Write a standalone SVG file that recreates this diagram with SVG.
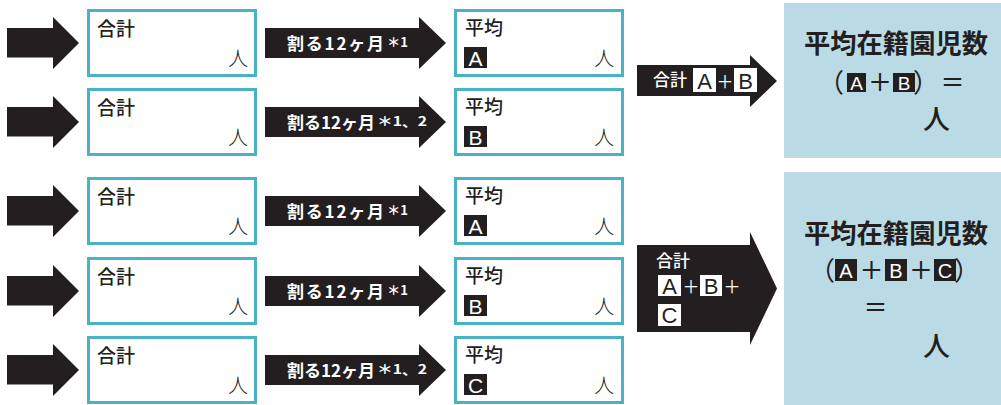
<svg xmlns="http://www.w3.org/2000/svg" xmlns:xlink="http://www.w3.org/1999/xlink" width="1001" height="405" viewBox="0 0 1001 405">
<style>
text{font-family:"Noto Sans CJK JP","Noto Sans",sans-serif}
.box{fill:#fff;stroke:#4ab2c5;stroke-width:3}
.arr{fill:#231f20}
.lbl{font-size:19px;font-weight:500;fill:#231f20}
.nin{font-size:20px;font-weight:300;fill:#231f20}
.wl{font-size:17px;font-weight:700;fill:#fff}
.sup{font-size:13px;font-weight:700;fill:#fff}
.blk{fill:#231f20}
.wht{fill:#fff}
.let{font-family:"Liberation Sans",Arial,sans-serif;font-size:21px;text-anchor:middle}
.big{font-size:26px;font-weight:700;fill:#231f20}
.sym{font-size:24px;font-weight:500;fill:#231f20;text-anchor:middle}
.res{fill:#badbe5}
</style>
<defs>
<path id="la" d="M7,-15 H53 V-26 L79,0 L53,26 V14.5 H7 Z"/>
<path id="ma" d="M265,-15 H419 V-26 L446,0 L419,26 V15 H265 Z"/>
</defs>
<g id="connectors">
<use xlink:href="#la" class="arr" y="43"/>
<use xlink:href="#la" class="arr" y="122"/>
<use xlink:href="#la" class="arr" y="211"/>
<use xlink:href="#la" class="arr" y="291"/>
<use xlink:href="#la" class="arr" y="370"/>
<use xlink:href="#ma" class="arr" y="43"/>
<use xlink:href="#ma" class="arr" y="122"/>
<use xlink:href="#ma" class="arr" y="211"/>
<use xlink:href="#ma" class="arr" y="291"/>
<use xlink:href="#ma" class="arr" y="370"/>
<text class="wl" x="287" y="50" textLength="97" lengthAdjust="spacing">割る12ヶ月</text><text class="sup" x="387" y="46.5" textLength="21" lengthAdjust="spacingAndGlyphs">＊1</text>
<text class="wl" x="287" y="129" textLength="88" lengthAdjust="spacing">割る12ヶ月</text><text class="sup" x="377" y="125.5" textLength="50" lengthAdjust="spacingAndGlyphs">＊1、2</text>
<text class="wl" x="287" y="218" textLength="97" lengthAdjust="spacing">割る12ヶ月</text><text class="sup" x="387" y="214.5" textLength="21" lengthAdjust="spacingAndGlyphs">＊1</text>
<text class="wl" x="287" y="298" textLength="97" lengthAdjust="spacing">割る12ヶ月</text><text class="sup" x="387" y="294.5" textLength="21" lengthAdjust="spacingAndGlyphs">＊1</text>
<text class="wl" x="287" y="377" textLength="88" lengthAdjust="spacing">割る12ヶ月</text><text class="sup" x="377" y="373.5" textLength="50" lengthAdjust="spacingAndGlyphs">＊1、2</text>
<path class="arr" d="M637,65 H750 V55 L777,81 L750,107 V96 H637 Z"/>
<text x="653" y="86" style="font-size:17px;font-weight:500;fill:#fff">合計</text>
<rect class="wht" x="693" y="68" width="23" height="24"/><text class="let" x="704.5" y="88.5" style="font-size:22px;fill:#231f20">A</text>
<text x="725" y="88" style="font-size:17px;fill:#fff;text-anchor:middle">＋</text>
<rect class="wht" x="734" y="68" width="23" height="24"/><text class="let" x="745.5" y="88.5" style="font-size:22px;fill:#231f20">B</text>
<path class="arr" d="M637,245 H750 V232 L777,288.5 L750,345 V332 H637 Z"/>
<text x="656" y="267" style="font-size:17px;font-weight:500;fill:#fff">合計</text>
<rect class="wht" x="658" y="275" width="23" height="21"/><text class="let" x="669.5" y="293.5" style="font-size:22px;fill:#231f20">A</text>
<text x="691" y="293" style="font-size:17px;fill:#fff;text-anchor:middle">＋</text>
<rect class="wht" x="700" y="275" width="22" height="21"/><text class="let" x="711" y="293.5" style="font-size:22px;fill:#231f20">B</text>
<text x="732" y="293" style="font-size:17px;fill:#fff;text-anchor:middle">＋</text>
<rect class="wht" x="658" y="304" width="23" height="22"/><text class="let" x="669.5" y="323" style="font-size:22px;fill:#231f20">C</text>
</g>
<g id="sum1"><rect class="box" x="88.5" y="10.5" width="167" height="65"/><text class="lbl" x="97" y="35.5">合計</text><text class="nin" x="228" y="65.5">人</text></g>
<g id="sum2"><rect class="box" x="88.5" y="89.5" width="167" height="65"/><text class="lbl" x="97" y="114.5">合計</text><text class="nin" x="228" y="144.5">人</text></g>
<g id="sum3"><rect class="box" x="88.5" y="178.5" width="167" height="65"/><text class="lbl" x="97" y="203.5">合計</text><text class="nin" x="228" y="233.5">人</text></g>
<g id="sum4"><rect class="box" x="88.5" y="258.5" width="167" height="65"/><text class="lbl" x="97" y="283.5">合計</text><text class="nin" x="228" y="313.5">人</text></g>
<g id="sum5"><rect class="box" x="88.5" y="337.5" width="167" height="65"/><text class="lbl" x="97" y="362.5">合計</text><text class="nin" x="228" y="392.5">人</text></g>
<g id="avgA1"><rect class="box" x="455.5" y="10.5" width="167" height="65"/><text class="lbl" x="465" y="34.5">平均</text><rect class="blk" x="464" y="47" width="23" height="21"/><text class="let wht" x="475.5" y="65.5">A</text><text class="nin" x="594" y="65.5">人</text></g>
<g id="avgB1"><rect class="box" x="455.5" y="89.5" width="167" height="65"/><text class="lbl" x="465" y="113.5">平均</text><rect class="blk" x="464" y="126" width="23" height="21"/><text class="let wht" x="475.5" y="144.5">B</text><text class="nin" x="594" y="144.5">人</text></g>
<g id="avgA2"><rect class="box" x="455.5" y="178.5" width="167" height="65"/><text class="lbl" x="465" y="202.5">平均</text><rect class="blk" x="464" y="215" width="23" height="21"/><text class="let wht" x="475.5" y="233.5">A</text><text class="nin" x="594" y="233.5">人</text></g>
<g id="avgB2"><rect class="box" x="455.5" y="258.5" width="167" height="65"/><text class="lbl" x="465" y="282.5">平均</text><rect class="blk" x="464" y="295" width="23" height="21"/><text class="let wht" x="475.5" y="313.5">B</text><text class="nin" x="594" y="313.5">人</text></g>
<g id="avgC2"><rect class="box" x="455.5" y="337.5" width="167" height="65"/><text class="lbl" x="465" y="361.5">平均</text><rect class="blk" x="464" y="374" width="23" height="21"/><text class="let wht" x="475.5" y="392.5">C</text><text class="nin" x="594" y="392.5">人</text></g>
<g id="result1">
<rect class="res" x="784" y="3" width="217" height="155"/>
<text class="big" x="804" y="53" textLength="184" lengthAdjust="spacingAndGlyphs">平均在籍園児数</text>
<text class="big" x="818" y="92" style="font-weight:400">（</text>
<rect class="blk" x="847" y="73" width="19" height="19"/><text class="let wht" x="856.5" y="90" style="font-size:19px">A</text>
<text class="sym" x="880" y="91">＋</text>
<rect class="blk" x="893" y="73" width="22" height="19"/><text class="let wht" x="904" y="90" style="font-size:19px">B</text>
<text class="big" x="913" y="92" style="font-weight:400">）</text>
<text class="sym" x="952.5" y="91">＝</text>
<text class="big" x="923" y="129" style="font-size:27px;font-weight:500">人</text>
</g>
<g id="result2">
<rect class="res" x="784" y="172" width="217" height="233"/>
<text class="big" x="804" y="243" textLength="184" lengthAdjust="spacingAndGlyphs">平均在籍園児数</text>
<text class="big" x="809" y="280" style="font-weight:400">（</text>
<rect class="blk" x="835" y="259" width="22" height="22"/><text class="let wht" x="846" y="278" style="font-size:20px">A</text>
<text class="sym" x="871.5" y="279">＋</text>
<rect class="blk" x="885" y="259" width="22" height="22"/><text class="let wht" x="896" y="278" style="font-size:20px">B</text>
<text class="sym" x="921" y="279">＋</text>
<rect class="blk" x="934" y="259" width="22" height="22"/><text class="let wht" x="945" y="278" style="font-size:20px">C</text>
<text class="big" x="954" y="280" style="font-weight:400">）</text>
<text class="sym" x="875.5" y="316">＝</text>
<text class="big" x="923" y="356" style="font-size:27px;font-weight:500">人</text>
</g>
</svg>
